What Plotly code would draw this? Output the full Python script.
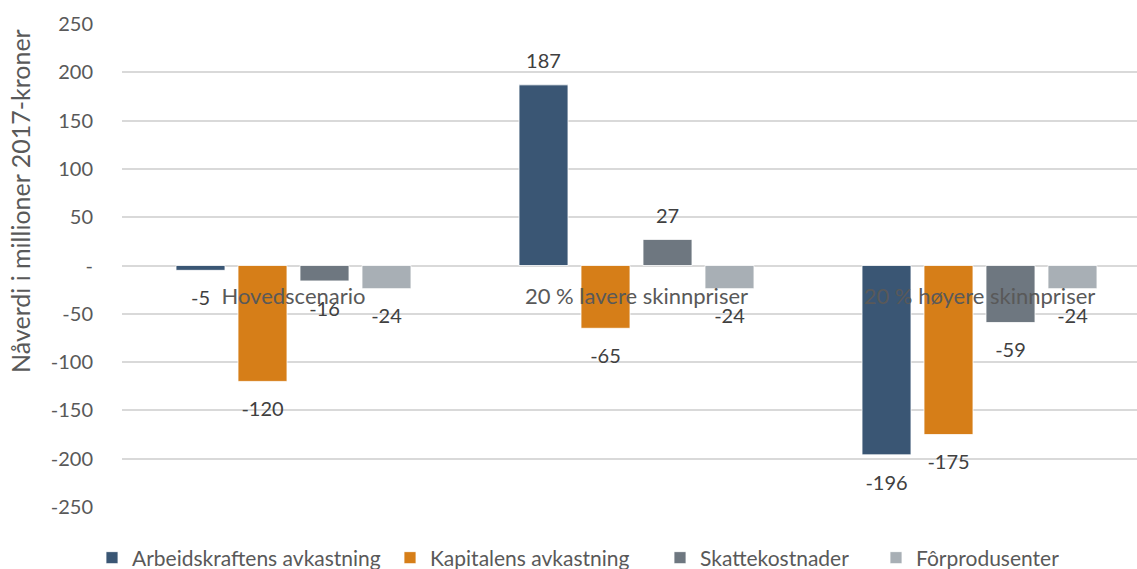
import plotly.graph_objects as go

categories = ["Hovedscenario", "20 % lavere skinnpriser", "20 % høyere skinnpriser"]
series_names = ["Arbeidskraftens avkastning", "Kapitalens avkastning", "Skattekostnader", "Fôrprodusenter"]
arbeid = [-5, 187, -196]
kapital = [-120, -65, -175]
skatt = [-16, 27, -59]
forprod = [-24, -24, -24]
series_values = [arbeid, kapital, skatt, forprod]
colors = ["#3A5674", "#D67E18", "#6E7780", "#A8AFB5"]
tick_vals = [250, 200, 150, 100, 50, 0, -50, -100, -150, -200, -250]
tick_text = ["250", "200", "150", "100", "50", "-", "-50", "-100", "-150", "-200", "-250"]
y_title = "Nåverdi i millioner 2017-kroner"

FONT = "Lato"
W, H = 1137, 569
ML, MR, MT, MB = 122, 0, 24, 62
PW = W - ML - MR
PH = H - MT - MB
GAP = 0.277

legend_px = [92, 390, 660, 876]
legend_keys = ["legend2", "legend3", "legend4", "legend5"]

fig = go.Figure()
for i, (name, vals, col, lk) in enumerate(zip(series_names, series_values, colors, legend_keys)):
    fig.add_trace(go.Bar(
        x=categories, y=vals, name=name, legend=lk,
        offsetgroup=str(i),
        marker=dict(color=col, line=dict(color="white", width=0.8)),
        hoverinfo="skip",
    ))
for i, vals in enumerate(series_values):
    fig.add_trace(go.Scatter(
        x=categories, y=vals, mode="markers+text",
        offsetgroup=str(i), showlegend=False,
        text=[str(v) for v in vals],
        textposition=["bottom center" if v < 0 else "top center" for v in vals],
        marker=dict(size=[30 if v < 0 else 17 for v in vals], opacity=0, color="white"),
        textfont=dict(family=FONT, size=20, color="#404040"),
        cliponaxis=False, hoverinfo="skip",
    ))

layout = dict(
    width=W, height=H,
    margin=dict(l=ML, r=MR, t=MT, b=MB, autoexpand=False),
    paper_bgcolor="white", plot_bgcolor="white",
    barmode="group", bargap=GAP, bargroupgap=0.21,
    scattermode="group", scattergap=GAP,
    font=dict(family=FONT, color="#595959"),
    xaxis=dict(
        range=[-0.5, -0.5 + PW / 343.0],
        anchor="free", position=0.5,
        showgrid=False, showline=False, zeroline=False,
        ticks="", tickfont=dict(family=FONT, size=22, color="#595959"),
        ticklabelstandoff=15,
    ),
    yaxis=dict(
        range=[-250, 250], tickvals=tick_vals, ticktext=tick_text,
        showgrid=True, gridcolor="#D9D9D9", gridwidth=1.5,
        zeroline=True, zerolinecolor="#D9D9D9", zerolinewidth=1.5,
        showline=False, ticks="",
        tickfont=dict(family=FONT, size=20, color="#595959"),
        ticklabelstandoff=28,
    ),
    annotations=[dict(
        text=y_title, textangle=-90, xref="paper", yref="paper",
        x=(20 - ML) / PW, y=(MT + PH - 201) / PH, xanchor="center", yanchor="middle",
        showarrow=False, font=dict(family=FONT, size=25, color="#595959"),
    )],
)
for lk, px in zip(legend_keys, legend_px):
    layout[lk] = dict(
        x=(px - ML) / PW, xanchor="left",
        y=(MT + PH - 558) / PH, yanchor="middle",
        orientation="h", bgcolor="rgba(0,0,0,0)", borderwidth=0,
        font=dict(family=FONT, size=21, color="#595959"),
        itemclick=False,
    )
fig.update_layout(**layout)
fig.write_html("out.html", post_script="document.body.style.margin='0';",
               config={"displayModeBar": False})
